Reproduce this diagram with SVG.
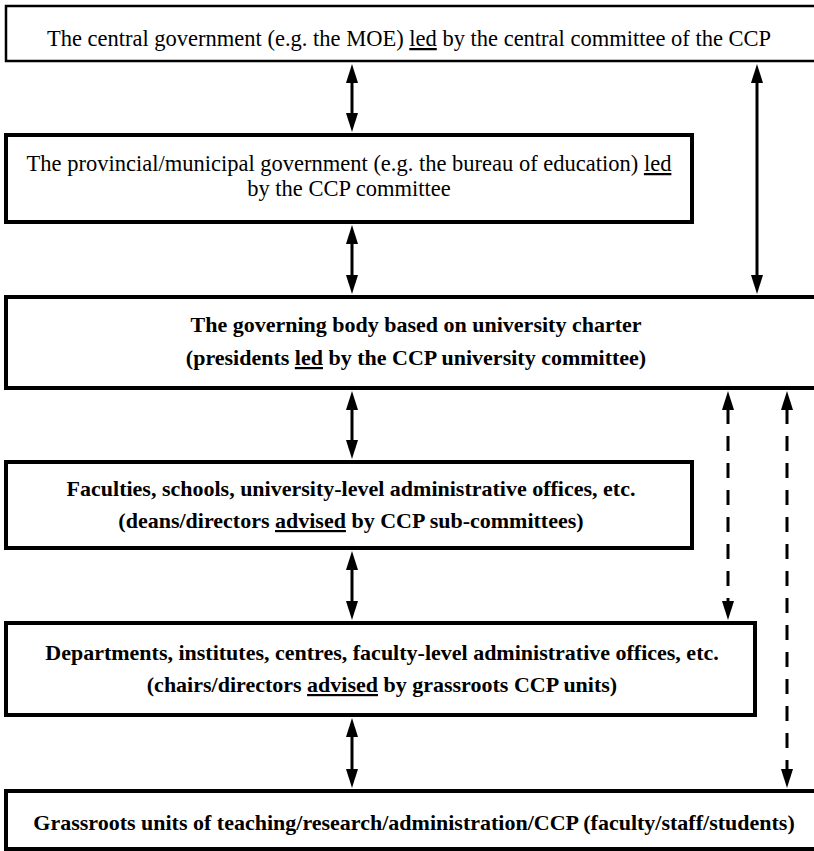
<svg xmlns="http://www.w3.org/2000/svg" width="814" height="851" viewBox="0 0 814 851">
  <style>
    .box { fill: #ffffff; stroke: #000000; stroke-width: 4; }
    .thin { stroke-width: 2.5; }
    .t { font-family: "Liberation Serif", "Times New Roman", serif; font-size: 22.5px; fill: #000000; text-anchor: middle; }
    .b { font-family: "Liberation Serif", "Times New Roman", serif; font-size: 22px; font-weight: bold; fill: #000000; text-anchor: middle; }
    .u { text-decoration: underline; }
    .arrow { stroke: #000000; stroke-width: 3; fill: none; marker-start: url(#head); marker-end: url(#head); }
    .dash { stroke-dasharray: 15 12; }
  </style>
  <defs>
    <marker id="head" markerUnits="userSpaceOnUse" viewBox="0 -6.5 20 13" markerWidth="20" markerHeight="13" refX="1" refY="0" orient="auto-start-reverse">
      <path d="M0,-6 L19,0 L0,6 Z" fill="#000000"/>
    </marker>
  </defs>
  <rect x="0" y="0" width="814" height="851" fill="#ffffff"/>

  <g id="central">
    <rect class="box thin" x="6" y="6" width="820" height="55"/>
    <text class="t" x="409" y="46">The central government (e.g. the MOE) <tspan class="u">led</tspan> by the central committee of the CCP</text>
  </g>

  <g id="provincial">
    <rect class="box" x="6" y="135" width="686" height="87"/>
    <text class="t" x="349" y="171">The provincial/municipal government (e.g. the bureau of education) <tspan class="u">led</tspan></text>
    <text class="t" x="349" y="196">by the CCP committee</text>
  </g>

  <g id="governing">
    <rect class="box" x="6" y="297" width="820" height="91"/>
    <text class="b" x="416" y="332">The governing body based on university charter</text>
    <text class="b" x="416" y="365">(presidents <tspan class="u">led</tspan> by the CCP university committee)</text>
  </g>

  <g id="faculties">
    <rect class="box" x="6" y="462" width="686" height="86"/>
    <text class="b" x="351" y="496">Faculties, schools, university-level administrative offices, etc.</text>
    <text class="b" x="351" y="528">(deans/directors <tspan class="u">advised</tspan> by CCP sub-committees)</text>
  </g>

  <g id="departments">
    <rect class="box" x="6" y="623" width="749" height="92"/>
    <text class="b" x="382" y="660">Departments, institutes, centres, faculty-level administrative offices, etc.</text>
    <text class="b" x="382" y="692">(chairs/directors <tspan class="u">advised</tspan> by grassroots CCP units)</text>
  </g>

  <g id="grassroots">
    <rect class="box" x="6" y="791" width="820" height="58"/>
    <text class="b" x="414" y="830">Grassroots units of teaching/research/administration/CCP (faculty/staff/students)</text>
  </g>

  <g id="connectors">
    <line class="arrow" x1="352" y1="82" x2="352" y2="114"/>
    <line class="arrow" x1="352" y1="243" x2="352" y2="276"/>
    <line class="arrow" x1="352" y1="409" x2="352" y2="441"/>
    <line class="arrow" x1="352" y1="569" x2="352" y2="602"/>
    <line class="arrow" x1="352" y1="736" x2="352" y2="770"/>
    <line class="arrow" x1="757" y1="82" x2="757" y2="276"/>
    <line class="arrow dash" x1="728" y1="409" x2="728" y2="602"/>
    <line class="arrow dash" x1="787" y1="409" x2="787" y2="770"/>
  </g>
</svg>
